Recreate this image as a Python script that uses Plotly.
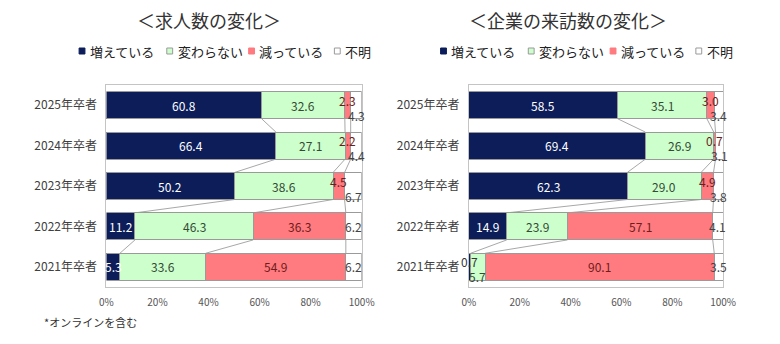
import plotly.graph_objects as go

# ---------------- data ----------------
categories = ["2025年卒者", "2024年卒者", "2023年卒者", "2022年卒者", "2021年卒者"]
series_names = ["増えている", "変わらない", "減っている", "不明"]

# 求人数の変化
jobs_increase = [60.8, 66.4, 50.2, 11.2, 5.3]
jobs_same = [32.6, 27.1, 38.6, 46.3, 33.6]
jobs_decrease = [2.3, 2.2, 4.5, 36.3, 54.9]
jobs_unknown = [4.3, 4.4, 6.7, 6.2, 6.2]

# 企業の来訪数の変化
visits_increase = [58.5, 69.4, 62.3, 14.9, 0.7]
visits_same = [35.1, 26.9, 29.0, 23.9, 5.7]
visits_decrease = [3.0, 0.7, 4.9, 57.1, 90.1]
visits_unknown = [3.4, 3.1, 3.8, 4.1, 3.5]

x_ticks = [0, 20, 40, 60, 80, 100]
x_tick_labels = ["0%", "20%", "40%", "60%", "80%", "100%"]
titles = ["＜求人数の変化＞", "＜企業の来訪数の変化＞"]
footnote = "*オンラインを含む"

# ---------------- styling ----------------
W, H = 780, 344
FONT = "Noto Sans CJK JP"
fills = ["#0c1d5a", "#ccffcc", "#ff7b7f", "#ffffff"]
label_colors = ["#ffffff", "#354a35", "#6e1c1c", "#444444"]
edge = "#9a9a9a"
BAR_W = 0.67

def px_x(p):
    return p / W

def px_y(p):
    return 1 - p / H

panels = [
    dict(series=[jobs_increase, jobs_same, jobs_decrease, jobs_unknown],
         xdom=[px_x(102), px_x(364)], xa="x", ya="y", title_x=207, legend_x=77),
    dict(series=[visits_increase, visits_same, visits_decrease, visits_unknown],
         xdom=[px_x(474), px_x(735)], xa="x2", ya="y2", title_x=576, legend_x=448),
]
ydom = [px_y(287), px_y(85)]
ypos = list(range(len(categories)))

fig = go.Figure()
annotations = []
shapes = []

for pi, p in enumerate(panels):
    series = p["series"]
    for si, vals in enumerate(series):
        fig.add_trace(go.Bar(
            x=vals, y=ypos, orientation="h", name=series_names[si],
            marker=dict(color=fills[si], line=dict(color=edge, width=1)),
            width=BAR_W, xaxis=p["xa"], yaxis=p["ya"], showlegend=False,
            hoverinfo="x+name",
        ))
    # data labels
    for ri in range(len(categories)):
        cum = 0.0
        prev_up = False
        for si, vals in enumerate(series):
            v = vals[ri]
            last = si == len(series) - 1
            if prev_up:
                shift = -10
                prev_up = False
            elif v < 5 and not last:
                shift = 5
                prev_up = True
            else:
                shift = 0
            color = label_colors[si]
            if si == 0 and v < 3:
                color = "#333333"
            annotations.append(dict(
                x=cum + v / 2, y=ri, xref=p["xa"], yref=p["ya"],
                text=f"{v:.1f}", showarrow=False, yshift=shift,
                font=dict(family=FONT, size=12, color=color),
            ))
            cum += v
    # series lines between adjacent bars
    for k in range(1, len(series)):
        for ri in range(len(categories) - 1):
            c1 = sum(series[s][ri] for s in range(k))
            c2 = sum(series[s][ri + 1] for s in range(k))
            shapes.append(dict(
                type="line", xref=p["xa"], yref=p["ya"],
                x0=c1, y0=ri + BAR_W / 2, x1=c2, y1=ri + 1 - BAR_W / 2,
                line=dict(color="#a8a8a8", width=1), layer="below",
            ))
    # title
    annotations.append(dict(
        x=px_x(p["title_x"]), y=px_y(20), xref="paper", yref="paper",
        text=titles[pi], showarrow=False, xanchor="center", yanchor="middle",
        font=dict(family=FONT, size=18, color="#333333"),
    ))
    # legend (swatch + text)
    offsets = [0, 90, 174, 262]
    ly = 51
    for si, name in enumerate(series_names):
        sx = p["legend_x"] + offsets[si]
        shapes.append(dict(
            type="rect", xref="paper", yref="paper",
            x0=px_x(sx - 3), x1=px_x(sx + 3), y0=px_y(ly + 3), y1=px_y(ly - 3),
            fillcolor=fills[si], line=dict(color=edge if si in (1, 3) else fills[si], width=1),
        ))
        annotations.append(dict(
            x=px_x(sx + 6), y=px_y(ly), xref="paper", yref="paper",
            text=name, showarrow=False, xanchor="left", yanchor="middle",
            font=dict(family=FONT, size=13, color="#222222"),
        ))

annotations.append(dict(
    x=px_x(36), y=px_y(322), xref="paper", yref="paper", text=footnote,
    showarrow=False, xanchor="left", yanchor="middle",
    font=dict(family=FONT, size=11, color="#333333"),
))

axis_common_x = dict(
    range=[0, 100], tickvals=x_ticks, ticktext=x_tick_labels, showgrid=False,
    zeroline=False, showline=True, linecolor="#c4c4c4", linewidth=1, mirror=True,
    ticks="", ticklabelstandoff=6,
    tickfont=dict(family=FONT, size=10, color="#555555"), fixedrange=True,
)
axis_common_y = dict(
    range=[len(categories) - 0.5, -0.5], tickvals=ypos, ticktext=categories,
    showgrid=False, zeroline=False, showline=True, linecolor="#c4c4c4", linewidth=1,
    mirror=True, ticks="", ticklabelstandoff=6,
    tickfont=dict(family=FONT, size=12, color="#404040"), fixedrange=True,
)

fig.update_layout(
    width=W, height=H, margin=dict(l=0, r=0, t=0, b=0),
    paper_bgcolor="white", plot_bgcolor="white",
    barmode="stack", showlegend=False,
    xaxis=dict(domain=panels[0]["xdom"], anchor="y", **axis_common_x),
    yaxis=dict(domain=ydom, anchor="x", **axis_common_y),
    xaxis2=dict(domain=panels[1]["xdom"], anchor="y2", **axis_common_x),
    yaxis2=dict(domain=ydom, anchor="x2", **axis_common_y),
    annotations=annotations, shapes=shapes,
    font=dict(family=FONT),
)

fig.write_html("out.html")
